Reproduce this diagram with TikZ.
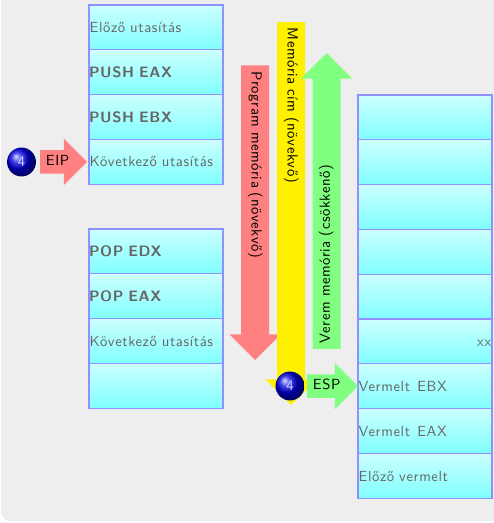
\documentclass[tikz,border=0pt]{standalone}
\usepackage{fontspec}
\setsansfont{Latin Modern Sans}[LetterSpace=4]
\usepackage{xcolor}
\usepackage{tikz}
\usetikzlibrary{positioning, shapes.arrows, shadings}

\definecolor{cellline}{HTML}{9090FF}
\definecolor{celltop}{HTML}{CCFFFF}
\definecolor{cellbottom}{HTML}{80FFFF}
\definecolor{celltext}{HTML}{666666}
\definecolor{bgpanel}{HTML}{EEEEEE}
\definecolor{redarrow}{HTML}{FF8080}
\definecolor{greenarrow}{HTML}{80FF80}
\definecolor{yellowarrow}{HTML}{FFF000}

\begin{document}
\begin{tikzpicture}[
        x=0.75pt, y=-0.75pt,
        font=\sffamily,
        cell/.style={draw=cellline, line width=0.8pt, top color=celltop, bottom color=cellbottom,
            minimum height=33.6pt, text width=99.5pt, text height=7.8pt, text depth=0pt,
            inner xsep=0.5pt, inner ysep=0pt, outer sep=0pt,
            align=left, text=celltext, font=\sffamily\fontsize{11}{12}\selectfont},
        op/.style={cell, inner xsep=0pt, text width=100.5pt, font=\sffamily\bfseries\fontsize{11.3}{12}\selectfont},
        membar/.style={single arrow, single arrow head extend=8.7pt, text height=7pt, text depth=2pt,
            inner ysep=5.8pt, inner xsep=4pt, outer sep=0pt, align=left, text=black,
            font=\sffamily\fontsize{11}{12}\selectfont},
        regbar/.style={membar, inner ysep=4.1pt, single arrow head extend=8.6pt},
        regball/.style={circle, ball color=blue!90!black, minimum size=21.7pt, inner sep=0pt,
            text=white!85!blue, font=\sffamily\fontsize{11}{12}\selectfont}
    ]

    % Background
    \path[use as bounding box] (0,0) rectangle (493,523);
    \fill[bgpanel, rounded corners=7pt] (1,-10) rectangle (503,521);

    % Code stack
    \node[cell, anchor=north west] (prev) at (89,5) {Előző utasítás};
    \node[op, below=0pt of prev] (pusheax) {PUSH EAX};
    \node[op, below=0pt of pusheax] (pushebx) {PUSH EBX};
    \node[cell, below=0pt of pushebx] (next) {Következő utasítás};

    \node[op, anchor=north west] (popedx) at (89,229) {POP EDX};
    \node[op, below=0pt of popedx] (popeax) {POP EAX};
    \node[cell, below=0pt of popeax] (nextb) {Következő utasítás};
    \node[cell, below=0pt of nextb] (emptyb) {};

    % Stack memory
    \node[cell, anchor=north west] (st1) at (358,95) {};
    \node[cell, below=0pt of st1] (st2) {};
    \node[cell, below=0pt of st2] (st3) {};
    \node[cell, below=0pt of st3] (st4) {};
    \node[cell, below=0pt of st4] (st5) {};
    \node[cell, below=0pt of st5, align=right] (st6) {xx};
    \node[cell, below=0pt of st6] (pusheb) {Vermelt\, EBX};
    \node[cell, below=0pt of pusheb] (pushea) {Vermelt\, EAX};
    \node[cell, below=0pt of pushea] (stprev) {Előző vermelt};

    % Memory arrows
    \node[membar, fill=redarrow, rotate=-90, text width=202pt, anchor=tip] (progmem) at (255,360) {Program memória (növekvő)};
    \node[membar, fill=yellowarrow, rotate=-90, text width=268.2pt, anchor=tip] (addr) at (291,405) {Memória cím (növekvő)};
    \node[membar, fill=greenarrow, rotate=90, text width=203pt, anchor=tip] (stackmem) at (326.5,53) {Verem memória (csökkenő)};

    % Registers
    \node[regball] (eipball) at (21.5,162) {4};
    \node[regbar, fill=redarrow, minimum height=35.2pt, anchor=tip, xshift=-1.5pt] (eip) at (next.west) {EIP};
    \node[regball] (espball) at (290,386) {4};
    \node[regbar, fill=greenarrow, minimum height=38.2pt, anchor=tip] (esp) at (pusheb.west) {ESP};

\end{tikzpicture}
\end{document}
